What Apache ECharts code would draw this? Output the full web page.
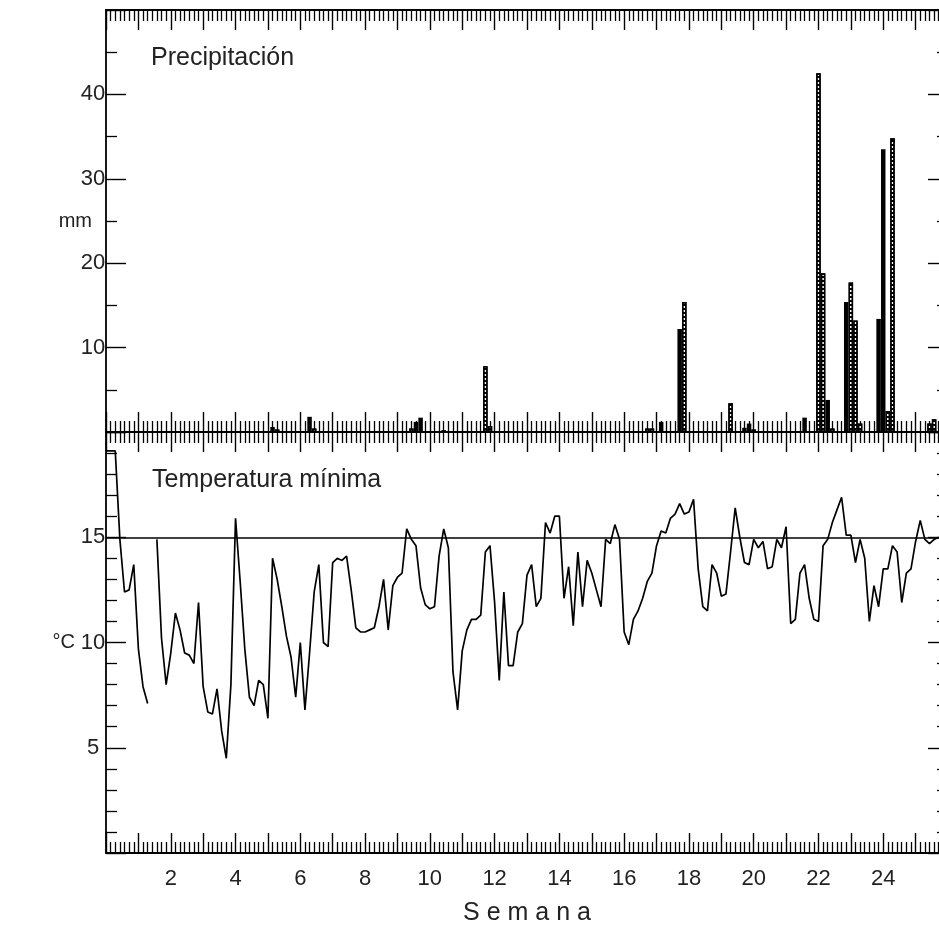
<!DOCTYPE html>
<html>
<head>
<meta charset="utf-8">
<script src="https://cdn.jsdelivr.net/npm/echarts@6/dist/echarts.min.js"></script>
<style>
html,body{margin:0;padding:0;background:#fff;overflow:hidden;}
#chart{width:952px;height:928px;}
</style>
</head>
<body>
<div id="chart"></div>
<script>
// ---- data ----
const weekLabels = [2, 4, 6, 8, 10, 12, 14, 16, 18, 20, 22, 24];
const daysPerWeek = 7;
const totalDays = 182;

// daily minimum temperature (°C), day 0..180 (null = missing)
const tminValues = [
  19.1, 19.1, 19.1, 14.9, 12.4, 12.5, 13.7, 9.7, 7.9, 7.1,
  null, 14.9, 10.2, 8.0, 9.5, 11.4, 10.6, 9.5, 9.4, 9.0,
  11.9, 7.9, 6.7, 6.6, 7.8, 5.8, 4.5, 8.0, 15.9, 12.9,
  9.7, 7.4, 7.0, 8.2, 8.0, 6.4, 14.0, 13.0, 11.7, 10.3,
  9.3, 7.4, 10.0, 6.8, 9.5, 12.4, 13.7, 10.0, 9.8, 13.8,
  14.0, 13.9, 14.1, 12.5, 10.7, 10.5, 10.5, 10.6, 10.7, 11.7,
  13.0, 10.6, 12.7, 13.1, 13.3, 15.4, 14.9, 14.6, 12.6, 11.8,
  11.6, 11.7, 14.1, 15.4, 14.5, 8.6, 6.8, 9.6, 10.6, 11.1,
  11.1, 11.3, 14.3, 14.6, 11.9, 8.2, 12.4, 8.9, 8.9, 10.5,
  10.9, 13.2, 13.7, 11.7, 12.1, 15.7, 15.2, 16.0, 16.0, 12.1,
  13.6, 10.8, 14.3, 11.7, 13.9, 13.3, 12.5, 11.7, 14.9, 14.7,
  15.6, 14.9, 10.5, 9.9, 11.1, 11.5, 12.1, 12.9, 13.3, 14.6,
  15.3, 15.2, 15.9, 16.1, 16.6, 16.1, 16.2, 16.8, 13.5, 11.7,
  11.5, 13.7, 13.3, 12.2, 12.3, 14.3, 16.4, 15.0, 13.8, 13.7,
  14.9, 14.5, 14.8, 13.5, 13.6, 14.9, 14.5, 15.5, 10.9, 11.1,
  13.3, 13.7, 12.1, 11.1, 11.0, 14.6, 14.9, 15.7, 16.3, 16.9,
  15.1, 15.1, 13.8, 14.9, 14.0, 11.0, 12.7, 11.7, 13.5, 13.5,
  14.6, 14.3, 11.9, 13.3, 13.5, 14.8, 15.8, 14.9, 14.7, 14.9,
  15.0
];
const tminReference = 15;

// precipitation (mm): solid bars
const rainSolidDays   = [36, 44, 67, 68, 120, 124, 138, 139, 151, 156, 160, 167, 168];
const rainSolidValues = [0.6, 1.8, 1.2, 1.7, 1.2, 12.2, 0.5, 1.0, 1.7, 3.8, 15.4, 13.4, 33.5];
// precipitation (mm): hatched bars
const rainHatchDays   = [37, 45, 66, 73, 82, 83, 117, 118, 125, 135, 140, 154, 155, 157, 161, 162, 163, 169, 170, 178, 179];
const rainHatchValues = [0.3, 0.4, 0.4, 0.2, 7.8, 0.7, 0.4, 0.4, 15.4, 3.4, 0.3, 42.5, 18.8, 0.4, 17.7, 13.2, 1.0, 2.5, 34.8, 1.0, 1.5];

// ---- chart ----
const FONT = "'Liberation Sans', Arial, sans-serif";
const tempData = tminValues.map((v, i) => [i, v === null ? '-' : v]);
const solidData = rainSolidDays.map((d, i) => [d, rainSolidValues[i]]);
const hatchData = rainHatchDays.map((d, i) => [d, rainHatchValues[i]]);

const axisLine = { show: true, onZero: false, lineStyle: { color: '#000', width: 1.8 } };
function xAx(grid, pos, withLabels) {
  return {
    type: 'value', gridIndex: grid, position: pos,
    min: 0, max: totalDays, interval: daysPerWeek,
    axisLine: axisLine,
    axisTick: { show: true, inside: true, length: 20, lineStyle: { color: '#000', width: 1.4 } },
    minorTick: { show: true, splitNumber: daysPerWeek, length: 11, lineStyle: { color: '#000', width: 1.3 } },
    splitLine: { show: false }, minorSplitLine: { show: false },
    axisLabel: withLabels ? {
      show: true, margin: 15, color: '#222', fontSize: 22, fontFamily: FONT,
      formatter: v => weekLabels.includes(v / daysPerWeek) ? String(v / daysPerWeek) : ''
    } : { show: false },
    name: withLabels ? 'S e m a n a' : '',
    nameLocation: 'middle', nameGap: 60, nameMoveOverlap: false,
    nameTextStyle: { color: '#222', fontSize: 25, fontFamily: FONT, verticalAlign: 'middle' }
  };
}
function yAx(grid, pos, max, interval, minorSplit, labels, name, nameGap) {
  return {
    type: 'value', gridIndex: grid, position: pos,
    min: 0, max: max, interval: interval,
    axisLine: axisLine,
    axisTick: { show: true, inside: true, length: 20, lineStyle: { color: '#000', width: 1.4 } },
    minorTick: { show: true, splitNumber: minorSplit, length: 11, lineStyle: { color: '#000', width: 1.3 } },
    splitLine: { show: false }, minorSplitLine: { show: false },
    axisLabel: labels ? {
      show: true, margin: 13, align: 'center', color: '#222', fontSize: 22, fontFamily: FONT,
      formatter: v => labels.includes(v) ? String(v) : ''
    } : { show: false },
    name: name || '', nameLocation: 'middle', nameRotate: 0, nameGap: nameGap || 0, nameMoveOverlap: false,
    nameTextStyle: { color: '#222', fontSize: 20, fontFamily: FONT, align: 'right', verticalAlign: 'middle' }
  };
}

const chart = echarts.init(document.getElementById('chart'), null, { renderer: 'canvas' });
chart.setOption({
  animation: false,
  backgroundColor: '#fff',
  grid: [
    { left: 106, top: 10, width: 842, height: 422 },
    { left: 106, top: 432, width: 842, height: 421 }
  ],
  graphic: [
    { type: 'text', x: 151, y: 58, style: { text: 'Precipitación', font: "25px 'Liberation Sans', Arial, sans-serif", fill: '#222', verticalAlign: 'middle' } },
    { type: 'text', x: 152, y: 480, style: { text: 'Temperatura mínima', font: "25px 'Liberation Sans', Arial, sans-serif", fill: '#222', verticalAlign: 'middle' } }
  ],
  xAxis: [
    xAx(0, 'bottom', false),
    xAx(0, 'top', false),
    xAx(1, 'top', false),
    xAx(1, 'bottom', true)
  ],
  yAxis: [
    yAx(0, 'left', 50, 10, 2, [10, 20, 30, 40], 'mm', 14),
    yAx(0, 'right', 50, 10, 2, null),
    yAx(1, 'left', 20, 5, 5, [5, 10, 15], '°C', 31),
    yAx(1, 'right', 20, 5, 5, null)
  ],
  series: [
    {
      type: 'bar', name: 'solid', xAxisIndex: 0, yAxisIndex: 0, stack: 'rain',
      barWidth: 4.5, data: solidData,
      itemStyle: { color: '#000' }
    },
    {
      type: 'bar', name: 'hatched', xAxisIndex: 0, yAxisIndex: 0, stack: 'rain',
      barWidth: 4.6, data: hatchData,
      itemStyle: {
        color: '#fff', borderColor: '#000', borderWidth: 1.4,
        decal: { symbol: 'rect', color: '#000', backgroundColor: 'rgba(0,0,0,0)', dashArrayX: [1, 0], dashArrayY: [1.2, 1.8], symbolSize: 1, rotation: 0 }
      }
    },
    {
      type: 'line', name: 'tmin', xAxisIndex: 3, yAxisIndex: 2,
      data: tempData, showSymbol: false, symbol: 'none', connectNulls: false,
      lineStyle: { color: '#000', width: 1.7 },
      markLine: {
        silent: true, symbol: ['none', 'none'], label: { show: false },
        lineStyle: { color: '#000', width: 1.6, type: 'solid' },
        data: [{ yAxis: tminReference }]
      }
    }
  ]
});
</script>
</body>
</html>
